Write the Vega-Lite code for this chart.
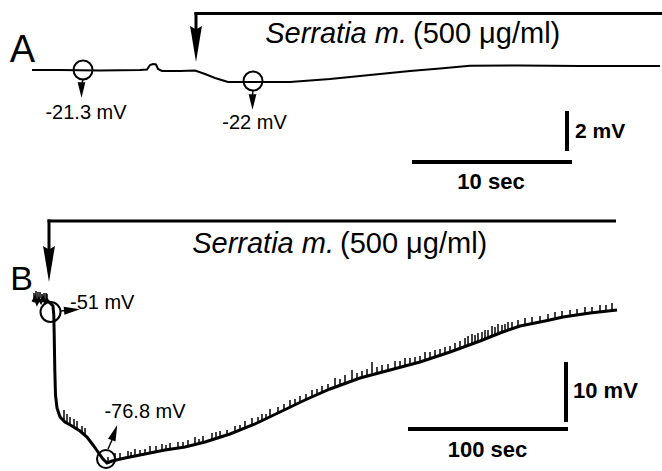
{
  "$schema": "https://vega.github.io/schema/vega-lite/v6.json",
  "padding": 0,
  "spacing": 0,
  "background": "white",
  "config": {"view": {"stroke": null}, "text": {"font": "Liberation Sans", "color": "black"}},
  "datasets": {
    "traceA": [
      {"t":2.0,"v":-21.3},{"t":3.75,"v":-21.3},{"t":6.25,"v":-21.325},{"t":8.75,"v":-21.3},{"t":9.1875,"v":-21.275},
      {"t":9.375,"v":-21.05},{"t":9.5625,"v":-21.0},{"t":9.75,"v":-21.025},{"t":9.875,"v":-21.25},{"t":10.125,"v":-21.35},
      {"t":11.25,"v":-21.35},{"t":12.1875,"v":-21.325},{"t":12.8125,"v":-21.5},{"t":13.4375,"v":-21.7},{"t":14.25,"v":-21.9},
      {"t":15.625,"v":-21.9},{"t":18.125,"v":-21.9},{"t":20.625,"v":-21.75},{"t":23.125,"v":-21.55},{"t":25.625,"v":-21.35},
      {"t":27.5,"v":-21.225},{"t":29.375,"v":-21.085},{"t":32.5,"v":-21.075},{"t":36.25,"v":-21.1},{"t":40.0,"v":-21.1},{"t":41.25,"v":-21.1}
    ],
    "bracketA": [
      {"t":12.15625,"v":-18.475,"t2":41.375,"v2":-18.475},
      {"t":12.25,"v":-18.4,"t2":12.25,"v2":-19.8}
    ],
    "bigArrowA": [{"t":12.25,"v":-20.0}],
    "circlesA": [{"t":5.1875,"v":-21.3},{"t":15.8125,"v":-21.85}],
    "stemsA": [
      {"t":5.1875,"v":-21.75,"t2":5.125,"v2":-22.0},
      {"t":15.8125,"v":-22.3,"t2":15.78,"v2":-22.55}
    ],
    "smallArrowsA": [{"t":5.09375,"v":-22.3},{"t":15.78125,"v":-22.9}],
    "labelsA": [{"t":5.375,"v":-23.767,"label":"-21.3 mV"},{"t":15.906,"v":-24.267,"label":"-22 mV"}],
    "titleItalicA": [{"t":25.4375,"v":-19.95,"label":"Serratia m."}],
    "titleNormalA": [{"t":25.8125,"v":-19.95,"label":"(500 μg/ml)"}],
    "letterA": [{"t":1.40625,"v":-20.9,"label":"A"}],
    "scaleBarsA": [
      {"t":35.4375,"v":-23.35,"t2":35.4375,"v2":-25.35},
      {"t":25.75,"v":-25.9,"t2":35.75,"v2":-25.9}
    ],
    "scaleLabelLeftA": [{"t":35.9375,"v":-24.7,"label":"2 mV"}],
    "scaleLabelCenterA": [{"t":30.6875,"v":-27.25,"label":"10 sec"}],

    "traceB": [
      {"t":20.625,"v":-50.5},{"t":21.875,"v":-49.833},{"t":23.125,"v":-50.667},{"t":24.375,"v":-50.0},{"t":25.625,"v":-50.5},
      {"t":26.875,"v":-49.833},{"t":28.125,"v":-50.5},{"t":29.375,"v":-50.167},{"t":31.25,"v":-50.667},{"t":33.125,"v":-51.167},
      {"t":33.625,"v":-52.667},{"t":33.9375,"v":-56.833},{"t":34.25,"v":-61.833},{"t":34.6875,"v":-66.0},{"t":35.625,"v":-68.167},
      {"t":37.5,"v":-69.667},{"t":40.625,"v":-70.5},{"t":45.0,"v":-71.167},{"t":50.0,"v":-72.0},{"t":54.375,"v":-73.0},
      {"t":58.125,"v":-74.333},{"t":61.25,"v":-75.5},{"t":64.375,"v":-76.667},{"t":66.875,"v":-77.333},{"t":70.0,"v":-77.0},
      {"t":78.125,"v":-76.5},{"t":90.625,"v":-75.833},{"t":103.125,"v":-75.167},{"t":115.625,"v":-74.667},{"t":128.125,"v":-73.833},
      {"t":143.75,"v":-72.5},{"t":159.375,"v":-70.833},{"t":175.0,"v":-68.833},{"t":190.625,"v":-66.833},{"t":206.25,"v":-65.0},
      {"t":225.0,"v":-63.167},{"t":243.75,"v":-61.833},{"t":262.5,"v":-60.5},{"t":281.25,"v":-58.833},{"t":300.0,"v":-57.0},
      {"t":312.5,"v":-55.667},{"t":325.0,"v":-54.5},{"t":340.625,"v":-53.667},{"t":351.875,"v":-53.0},{"t":368.75,"v":-52.333},
      {"t":385.625,"v":-51.833}
    ],
    "spikesB": [
      {"t":21.25,"v":-50.333,"v2":-49.0},{"t":23.75,"v":-50.167,"v2":-48.833},{"t":26.25,"v":-50.333,"v2":-49.167},{"t":28.75,"v":-50.333,"v2":-49.0},
      {"t":22.5,"v":-50.0,"v2":-48.667},{"t":25.0,"v":-49.833,"v2":-48.833},{"t":27.5,"v":-50.0,"v2":-49.0},{"t":29.375,"v":-50.167,"v2":-49.167},
      {"t":40.0,"v":-70.333,"v2":-68.5},{"t":41.875,"v":-70.667,"v2":-69.167},{"t":43.75,"v":-71.0,"v2":-69.667},{"t":46.25,"v":-71.333,"v2":-70.0},
      {"t":48.125,"v":-71.667,"v2":-70.333},{"t":51.25,"v":-72.167,"v2":-71.167},{"t":53.125,"v":-72.667,"v2":-71.5},
      {"t":67.5,"v":-77.167,"v2":-76.333},
      {"t":71.875,"v":-76.833,"v2":-75.667},{"t":75.0,"v":-76.667,"v2":-75.667},{"t":80.0,"v":-76.333,"v2":-75.333},{"t":81.875,"v":-76.333,"v2":-75.5},
      {"t":84.375,"v":-76.167,"v2":-75.0},{"t":87.5,"v":-76.0,"v2":-75.167},{"t":90.625,"v":-75.833,"v2":-75.0},{"t":93.75,"v":-75.667,"v2":-74.5},
      {"t":97.5,"v":-75.5,"v2":-74.5},{"t":101.25,"v":-75.333,"v2":-74.167},{"t":103.75,"v":-75.167,"v2":-74.333},
      {"t":106.25,"v":-75.0,"v2":-74.0},{"t":111.25,"v":-74.833,"v2":-73.833},{"t":114.375,"v":-74.667,"v2":-73.833},{"t":117.5,"v":-74.5,"v2":-73.5},
      {"t":121.875,"v":-74.167,"v2":-73.0},{"t":124.375,"v":-74.083,"v2":-73.333},
      {"t":126.875,"v":-73.833,"v2":-72.833},{"t":132.5,"v":-73.5,"v2":-72.333},{"t":135.0,"v":-73.0,"v2":-72.167},{"t":137.5,"v":-73.167,"v2":-72.0},
      {"t":141.875,"v":-72.667,"v2":-71.833},{"t":146.875,"v":-72.167,"v2":-71.167},{"t":150.0,"v":-71.833,"v2":-71.0},
      {"t":153.125,"v":-71.5,"v2":-70.333},{"t":157.5,"v":-71.0,"v2":-69.833},{"t":161.25,"v":-70.667,"v2":-69.667},{"t":163.75,"v":-70.333,"v2":-69.167},
      {"t":166.25,"v":-70.0,"v2":-69.167},{"t":168.75,"v":-69.667,"v2":-68.333},
      {"t":173.75,"v":-69.0,"v2":-68.0},{"t":177.5,"v":-68.5,"v2":-67.5},{"t":181.25,"v":-68.0,"v2":-66.833},{"t":184.375,"v":-67.667,"v2":-66.667},
      {"t":187.5,"v":-67.167,"v2":-66.167},{"t":191.25,"v":-66.75,"v2":-65.833},{"t":195.0,"v":-66.333,"v2":-65.167},{"t":198.125,"v":-66.0,"v2":-65.0},
      {"t":201.25,"v":-65.5,"v2":-64.5},{"t":205.0,"v":-65.167,"v2":-64.167},{"t":209.375,"v":-64.667,"v2":-63.167},{"t":212.5,"v":-64.333,"v2":-63.333},
      {"t":215.625,"v":-64.0,"v2":-62.667},{"t":220.0,"v":-63.667,"v2":-61.833},{"t":223.125,"v":-63.333,"v2":-62.333},
      {"t":226.25,"v":-63.0,"v2":-62.0},{"t":229.375,"v":-62.833,"v2":-61.667},{"t":232.5,"v":-62.5,"v2":-60.5},{"t":235.625,"v":-62.417,"v2":-61.333},
      {"t":238.75,"v":-62.167,"v2":-61.0},{"t":242.5,"v":-61.917,"v2":-60.833},{"t":246.875,"v":-61.5,"v2":-60.333},{"t":250.0,"v":-61.417,"v2":-60.333},
      {"t":253.125,"v":-61.167,"v2":-59.833},{"t":256.25,"v":-60.917,"v2":-59.833},{"t":259.375,"v":-60.667,"v2":-59.667},{"t":262.5,"v":-60.5,"v2":-59.5},
      {"t":265.625,"v":-60.167,"v2":-58.833},{"t":268.75,"v":-59.917,"v2":-58.833},{"t":271.875,"v":-59.667,"v2":-58.5},{"t":275.0,"v":-59.417,"v2":-58.333},
      {"t":278.125,"v":-59.167,"v2":-58.0},{"t":281.25,"v":-58.833,"v2":-57.833},{"t":284.375,"v":-58.5,"v2":-57.333},{"t":287.5,"v":-58.25,"v2":-57.0},
      {"t":290.625,"v":-57.833,"v2":-56.5},{"t":292.5,"v":-57.75,"v2":-56.167},{"t":295.0,"v":-57.5,"v2":-55.833},{"t":296.875,"v":-57.333,"v2":-56.0},
      {"t":298.75,"v":-57.167,"v2":-55.667},{"t":301.25,"v":-56.833,"v2":-55.5},{"t":303.125,"v":-56.667,"v2":-55.167},{"t":305.0,"v":-56.5,"v2":-55.167},
      {"t":307.5,"v":-56.167,"v2":-54.5},{"t":309.375,"v":-56.0,"v2":-54.667},{"t":311.25,"v":-55.833,"v2":-54.167},{"t":313.75,"v":-55.5,"v2":-54.333},
      {"t":315.625,"v":-55.333,"v2":-54.167},{"t":317.5,"v":-55.167,"v2":-53.833},{"t":320.0,"v":-54.833,"v2":-53.833},{"t":323.75,"v":-54.667,"v2":-53.5},
      {"t":328.125,"v":-54.333,"v2":-53.167},{"t":332.5,"v":-54.083,"v2":-53.0},{"t":337.5,"v":-53.833,"v2":-52.833},{"t":342.5,"v":-53.583,"v2":-52.5},
      {"t":346.875,"v":-53.333,"v2":-52.167},{"t":351.25,"v":-53.0,"v2":-52.0},{"t":356.25,"v":-52.833,"v2":-51.833},{"t":360.625,"v":-52.667,"v2":-51.667},
      {"t":365.625,"v":-52.5,"v2":-51.333},{"t":370.0,"v":-52.333,"v2":-51.333},{"t":375.0,"v":-52.167,"v2":-51.0},{"t":378.75,"v":-52.0,"v2":-51.0},
      {"t":382.5,"v":-51.833,"v2":-50.667}
    ],
    "bracketB": [
      {"t":29.6875,"v":-37.0,"t2":385.0,"v2":-37.0},
      {"t":30.625,"v":-36.75,"t2":30.625,"v2":-43.5}
    ],
    "bigArrowB": [{"t":30.625,"v":-44.167}],
    "circle1B": [{"t":31.5625,"v":-52.167}],
    "circle2B": [{"t":66.25,"v":-76.667}],
    "stemsB": [
      {"t":38.125,"v":-52.0,"t2":40.625,"v2":-51.917},
      {"t":67.5,"v":-75.0,"t2":70.0,"v2":-73.5}
    ],
    "arrowRightB": [{"t":45.0,"v":-51.833}],
    "arrowUpB": [{"t":71.5625,"v":-72.25}],
    "labelLeftB": [{"t":43.75,"v":-51.667,"label":"-51 mV"}],
    "labelCenterB": [{"t":90.625,"v":-69.783,"label":"-76.8 mV"}],
    "titleItalicB": [{"t":208.75,"v":-42.333,"label":"Serratia m."}],
    "titleNormalB": [{"t":212.5,"v":-42.333,"label":"(500 μg/ml)"}],
    "letterB": [{"t":13.4375,"v":-48.5,"label":"B"}],
    "scaleBarsB": [
      {"t":353.75,"v":-60.5,"t2":353.75,"v2":-70.5},
      {"t":255.0,"v":-71.667,"t2":355.0,"v2":-71.667}
    ],
    "scaleLabelLeftB": [{"t":358.125,"v":-66.5,"label":"10 mV"}],
    "scaleLabelCenterB": [{"t":304.6875,"v":-76.333,"label":"100 sec"}]
  },
  "vconcat": [
    {
      "width": 662,
      "height": 200,
      "encoding": {
        "x": {"field": "t", "type": "quantitative", "scale": {"domain": [0, 41.375], "nice": false, "zero": false}, "axis": null},
        "y": {"field": "v", "type": "quantitative", "scale": {"domain": [-27.8, -17.8], "nice": false, "zero": false}, "axis": null}
      },
      "layer": [
        {"data": {"name": "traceA"}, "mark": {"type": "line", "color": "black", "strokeWidth": 2}},
        {"data": {"name": "bracketA"}, "mark": {"type": "rule", "color": "black", "strokeWidth": 3}, "encoding": {"x2": {"field": "t2"}, "y2": {"field": "v2"}}},
        {"data": {"name": "bigArrowA"}, "mark": {"type": "point", "shape": "M-0.33,-1L0,-0.8L0.33,-1L0,1Z", "size": 1296, "filled": true, "color": "black", "opacity": 1}},
        {"data": {"name": "circlesA"}, "mark": {"type": "point", "shape": "circle", "size": 361, "filled": false, "color": "black", "strokeWidth": 2, "opacity": 1}},
        {"data": {"name": "stemsA"}, "mark": {"type": "rule", "color": "black", "strokeWidth": 1.5}, "encoding": {"x2": {"field": "t2"}, "y2": {"field": "v2"}}},
        {"data": {"name": "smallArrowsA"}, "mark": {"type": "point", "shape": "M-0.5,-1L0.5,-1L0,1Z", "size": 240, "filled": true, "color": "black", "opacity": 1}},
        {"data": {"name": "labelsA"}, "mark": {"type": "text", "fontSize": 20, "align": "center", "baseline": "alphabetic"}, "encoding": {"text": {"field": "label"}}},
        {"data": {"name": "titleItalicA"}, "mark": {"type": "text", "fontSize": 29, "fontStyle": "italic", "align": "right", "baseline": "alphabetic"}, "encoding": {"text": {"field": "label"}}},
        {"data": {"name": "titleNormalA"}, "mark": {"type": "text", "fontSize": 29, "align": "left", "baseline": "alphabetic"}, "encoding": {"text": {"field": "label"}}},
        {"data": {"name": "letterA"}, "mark": {"type": "text", "fontSize": 38, "align": "center", "baseline": "alphabetic"}, "encoding": {"text": {"field": "label"}}},
        {"data": {"name": "scaleBarsA"}, "mark": {"type": "rule", "color": "black", "strokeWidth": 4}, "encoding": {"x2": {"field": "t2"}, "y2": {"field": "v2"}}},
        {"data": {"name": "scaleLabelLeftA"}, "mark": {"type": "text", "fontSize": 21, "fontWeight": "bold", "align": "left", "baseline": "alphabetic"}, "encoding": {"text": {"field": "label"}}},
        {"data": {"name": "scaleLabelCenterA"}, "mark": {"type": "text", "fontSize": 22, "fontWeight": "bold", "align": "center", "baseline": "alphabetic"}, "encoding": {"text": {"field": "label"}}}
      ]
    },
    {
      "width": 662,
      "height": 270,
      "encoding": {
        "x": {"field": "t", "type": "quantitative", "scale": {"domain": [0, 413.75], "nice": false, "zero": false}, "axis": null},
        "y": {"field": "v", "type": "quantitative", "scale": {"domain": [-78.5, -33.5], "nice": false, "zero": false}, "axis": null}
      },
      "layer": [
        {"data": {"name": "spikesB"}, "mark": {"type": "rule", "color": "black", "strokeWidth": 1.5}, "encoding": {"y2": {"field": "v2"}}},
        {"data": {"name": "traceB"}, "mark": {"type": "line", "color": "black", "strokeWidth": 3}},
        {"data": {"name": "bracketB"}, "mark": {"type": "rule", "color": "black", "strokeWidth": 3}, "encoding": {"x2": {"field": "t2"}, "y2": {"field": "v2"}}},
        {"data": {"name": "bigArrowB"}, "mark": {"type": "point", "shape": "M-0.33,-1L0,-0.8L0.33,-1L0,1Z", "size": 1296, "filled": true, "color": "black", "opacity": 1}},
        {"data": {"name": "circle1B"}, "mark": {"type": "point", "shape": "circle", "size": 400, "filled": false, "color": "black", "strokeWidth": 2, "opacity": 1}},
        {"data": {"name": "circle2B"}, "mark": {"type": "point", "shape": "circle", "size": 324, "filled": false, "color": "black", "strokeWidth": 2, "opacity": 1}},
        {"data": {"name": "stemsB"}, "mark": {"type": "rule", "color": "black", "strokeWidth": 1.5}, "encoding": {"x2": {"field": "t2"}, "y2": {"field": "v2"}}},
        {"data": {"name": "arrowRightB"}, "mark": {"type": "point", "shape": "M-0.5,-1L0.5,-1L0,1Z", "size": 256, "filled": true, "color": "black", "opacity": 1, "angle": 265}},
        {"data": {"name": "arrowUpB"}, "mark": {"type": "point", "shape": "M-0.5,-1L0.5,-1L0,1Z", "size": 256, "filled": true, "color": "black", "opacity": 1, "angle": 200}},
        {"data": {"name": "labelLeftB"}, "mark": {"type": "text", "fontSize": 20, "align": "left", "baseline": "alphabetic"}, "encoding": {"text": {"field": "label"}}},
        {"data": {"name": "labelCenterB"}, "mark": {"type": "text", "fontSize": 20, "align": "center", "baseline": "alphabetic"}, "encoding": {"text": {"field": "label"}}},
        {"data": {"name": "titleItalicB"}, "mark": {"type": "text", "fontSize": 29, "fontStyle": "italic", "align": "right", "baseline": "alphabetic"}, "encoding": {"text": {"field": "label"}}},
        {"data": {"name": "titleNormalB"}, "mark": {"type": "text", "fontSize": 29, "align": "left", "baseline": "alphabetic"}, "encoding": {"text": {"field": "label"}}},
        {"data": {"name": "letterB"}, "mark": {"type": "text", "fontSize": 34, "align": "center", "baseline": "alphabetic"}, "encoding": {"text": {"field": "label"}}},
        {"data": {"name": "scaleBarsB"}, "mark": {"type": "rule", "color": "black", "strokeWidth": 4}, "encoding": {"x2": {"field": "t2"}, "y2": {"field": "v2"}}},
        {"data": {"name": "scaleLabelLeftB"}, "mark": {"type": "text", "fontSize": 22, "fontWeight": "bold", "align": "left", "baseline": "alphabetic"}, "encoding": {"text": {"field": "label"}}},
        {"data": {"name": "scaleLabelCenterB"}, "mark": {"type": "text", "fontSize": 22, "fontWeight": "bold", "align": "center", "baseline": "alphabetic"}, "encoding": {"text": {"field": "label"}}}
      ]
    }
  ]
}
